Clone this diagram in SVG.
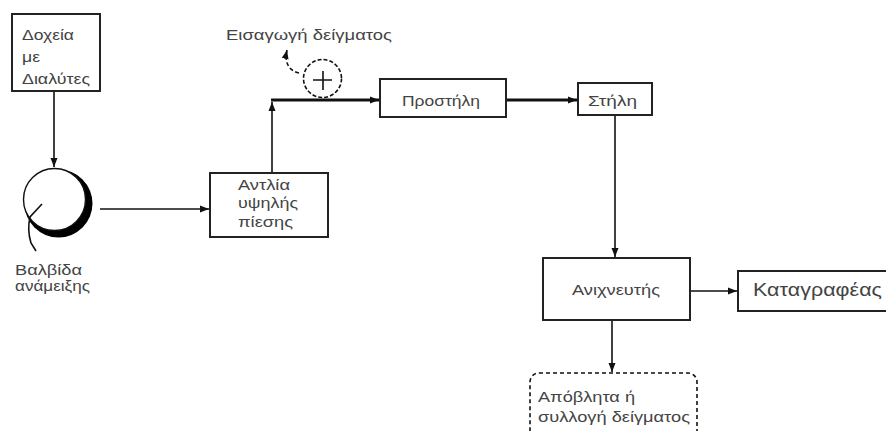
<svg xmlns="http://www.w3.org/2000/svg" width="886" height="431" viewBox="0 0 886 431">
<defs>
<style>
.box{fill:#fff;stroke:#222;stroke-width:2}
.t{font-family:"Liberation Sans",Arial,sans-serif;font-size:15px;fill:#444}
.big{font-size:18px}
.ln{fill:none;stroke:#111;stroke-width:1.6}
.thick{fill:none;stroke:#111;stroke-width:3}
.dash{fill:none;stroke:#111;stroke-width:1.6;stroke-dasharray:4 2.5}
</style>
<marker id="ah" markerUnits="userSpaceOnUse" markerWidth="10" markerHeight="8" refX="9" refY="4" orient="auto">
<path d="M0,0.5 L9,4 L0,7.5 z" fill="#111"/>
</marker>
</defs>
<rect width="886" height="431" fill="#fff"/>

<g id="connectors">
<line class="ln" x1="54" y1="92" x2="54" y2="167" marker-end="url(#ah)"/>
<line class="ln" x1="100" y1="209" x2="209" y2="209" marker-end="url(#ah)"/>
<line class="ln" x1="272" y1="173" x2="272" y2="102" marker-end="url(#ah)"/>
<line class="thick" x1="271" y1="100" x2="379" y2="100" marker-end="url(#ah)"/>
<line class="thick" x1="506" y1="100" x2="577" y2="100" marker-end="url(#ah)"/>
<line class="ln" x1="615" y1="115" x2="615" y2="257" marker-end="url(#ah)"/>
<line class="ln" x1="690" y1="291" x2="737" y2="291" marker-end="url(#ah)"/>
<line class="ln" x1="612" y1="320" x2="612" y2="372" marker-end="url(#ah)"/>
<path class="dash" d="M299,73 C290,71 284,64 287,50" marker-end="url(#ah)"/>
</g>

<g id="solvents">
<rect class="box" x="12" y="14" width="88" height="77"/>
<text class="t" x="22" y="40" textLength="52" lengthAdjust="spacingAndGlyphs">Δοχεία</text>
<text class="t" x="22" y="62" textLength="18" lengthAdjust="spacingAndGlyphs">με</text>
<text class="t" x="22" y="84" textLength="68" lengthAdjust="spacingAndGlyphs">Διαλύτες</text>
</g>

<g id="valve">
<circle cx="58.5" cy="203.5" r="34" fill="#000"/>
<circle cx="54.5" cy="199.5" r="31" fill="#fff" stroke="#111" stroke-width="1.4"/>
<path class="ln" d="M42,204 L30,217 Q27,230 31,243 L36,251" stroke-width="1.3"/>
<text class="t" x="15" y="275" textLength="67" lengthAdjust="spacingAndGlyphs">Βαλβίδα</text>
<text class="t" x="15" y="291" textLength="75" lengthAdjust="spacingAndGlyphs">ανάμειξης</text>
</g>

<g id="pump">
<rect class="box" x="210" y="173" width="118" height="64"/>
<text class="t" x="238" y="190" textLength="52" lengthAdjust="spacingAndGlyphs">Αντλία</text>
<text class="t" x="238" y="208" textLength="60" lengthAdjust="spacingAndGlyphs">υψηλής</text>
<text class="t" x="238" y="227" textLength="55" lengthAdjust="spacingAndGlyphs">πίεσης</text>
</g>

<g id="injector">
<circle cx="322.5" cy="78.5" r="19" fill="#fff" stroke="#111" stroke-width="1.6" stroke-dasharray="4 2"/>
<path d="M313,80 H332 M323,71 V90" stroke="#111" stroke-width="1.6" fill="none"/>
<text class="t" x="226" y="40" textLength="166" lengthAdjust="spacingAndGlyphs">Εισαγωγή δείγματος</text>
</g>

<g id="precolumn">
<rect class="box" x="380" y="79" width="126" height="38"/>
<text class="t" x="402" y="106" textLength="78" lengthAdjust="spacingAndGlyphs">Προστήλη</text>
</g>

<g id="column">
<rect class="box" x="578" y="83" width="74" height="32"/>
<text class="t" x="588" y="106" textLength="49" lengthAdjust="spacingAndGlyphs">Στήλη</text>
</g>

<g id="detector">
<rect class="box" x="543" y="258" width="147" height="62"/>
<text class="t" x="572" y="295" textLength="88" lengthAdjust="spacingAndGlyphs">Ανιχνευτής</text>
</g>

<g id="recorder">
<rect class="box" x="738" y="271" width="160" height="40"/>
<text class="t big" x="753" y="296" textLength="129" lengthAdjust="spacingAndGlyphs">Καταγραφέας</text>
</g>

<g id="waste">
<rect x="530" y="373" width="167" height="72" rx="9" fill="#fff" stroke="#111" stroke-width="1.6" stroke-dasharray="4 3"/>
<text class="t" x="538" y="402" textLength="97" lengthAdjust="spacingAndGlyphs">Απόβλητα ή</text>
<text class="t" x="538" y="422" textLength="152" lengthAdjust="spacingAndGlyphs">συλλογή δείγματος</text>
</g>
</svg>
